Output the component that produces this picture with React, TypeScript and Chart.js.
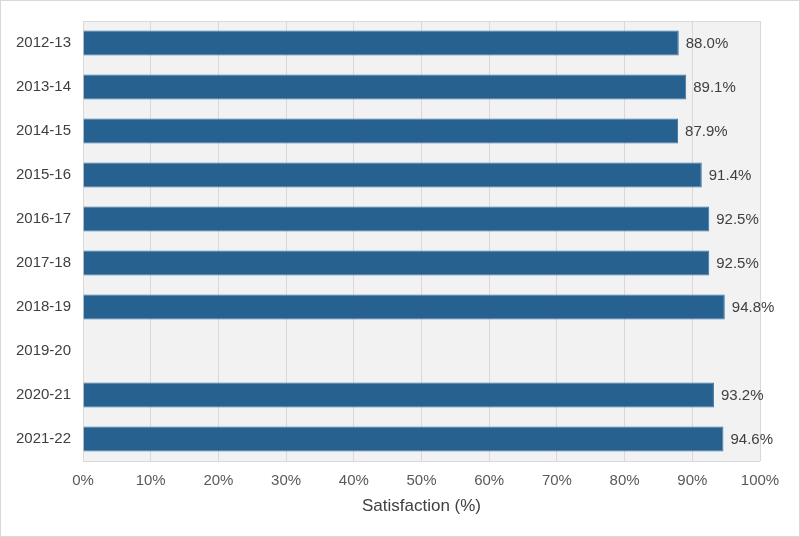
import React, { useEffect, useRef } from "react";
import { Chart, registerables } from "chart.js";

Chart.register(...registerables);

const categories = ["2012-13", "2013-14", "2014-15", "2015-16", "2016-17", "2017-18", "2018-19", "2019-20", "2020-21", "2021-22"];
const satisfaction: (number | null)[] = [88.0, 89.1, 87.9, 91.4, 92.5, 92.5, 94.8, null, 93.2, 94.6];
const xTickValues = [0, 10, 20, 30, 40, 50, 60, 70, 80, 90, 100];
const axisTitle = "Satisfaction (%)";

const FONT = "'Liberation Sans', Arial, sans-serif";

export default function App() {
  const ref = useRef<HTMLCanvasElement>(null);
  useEffect(() => {
    document.body.style.margin = "0";
    const canvas = ref.current!;
    const bgPlugin = {
      id: "bg",
      beforeDraw(chart: any) {
        const { ctx, chartArea: a } = chart;
        ctx.save();
        ctx.fillStyle = "#ffffff";
        ctx.fillRect(0, 0, chart.width, chart.height);
        ctx.strokeStyle = "#d9d9d9";
        ctx.lineWidth = 1;
        ctx.strokeRect(0.5, 0.5, chart.width - 1, chart.height - 1);
        ctx.fillStyle = "#f2f2f2";
        ctx.fillRect(a.left, a.top, a.right - a.left, a.bottom - a.top);
        ctx.restore();
      },
      afterDatasetsDraw(chart: any) {
        const { ctx, chartArea: a } = chart;
        ctx.save();
        ctx.strokeStyle = "#d9d9d9";
        ctx.lineWidth = 1;
        ctx.beginPath();
        ctx.moveTo(a.left, Math.round(a.top) + 0.5);
        ctx.lineTo(a.right, Math.round(a.top) + 0.5);
        ctx.moveTo(a.left, Math.round(a.bottom) + 0.5);
        ctx.lineTo(a.right, Math.round(a.bottom) + 0.5);
        ctx.stroke();
        const meta = chart.getDatasetMeta(0);
        ctx.fillStyle = "#404040";
        ctx.font = `15px ${FONT}`;
        ctx.textAlign = "left";
        ctx.textBaseline = "middle";
        meta.data.forEach((bar: any, i: number) => {
          const v = satisfaction[i];
          if (v == null) return;
          ctx.fillText(v.toFixed(1) + "%", bar.x + 7, bar.y + 1);
        });
        ctx.restore();
      },
    };
    const chart = new Chart(canvas, {
      type: "bar",
      data: {
        labels: categories,
        datasets: [
          {
            data: satisfaction,
            backgroundColor: "#27618f",
            borderColor: "#3d76a6",
            borderWidth: 1,
            barPercentage: 0.57,
            categoryPercentage: 1,
          },
        ],
      },
      options: {
        indexAxis: "y",
        animation: false,
        responsive: false,
        maintainAspectRatio: false,
        devicePixelRatio: 1,
        layout: { padding: { top: 16, right: 40, bottom: 20, left: 0 } },
        plugins: { legend: { display: false }, tooltip: { enabled: false } },
        scales: {
          x: {
            min: 0,
            max: 100,
            afterBuildTicks(scale: any) {
              scale.ticks = xTickValues.map((v) => ({ value: v }));
            },
            afterFit(scale: any) {
              scale.height = 56;
            },
            grid: { color: "#d9d9d9", drawTicks: false },
            border: { display: false },
            ticks: {
              color: "#595959",
              font: { family: FONT, size: 15 },
              padding: 11,
              callback: (v: any) => v + "%",
            },
            title: {
              display: true,
              text: axisTitle,
              color: "#404040",
              font: { family: FONT, size: 17 },
              padding: { top: 4, bottom: 0 },
            },
          },
          y: {
            afterFit(scale: any) {
              scale.width = 83;
            },
            grid: { display: false, drawTicks: false },
            border: { display: false },
            ticks: {
              color: "#404040",
              font: { family: FONT, size: 15 },
              padding: 12,
            },
          },
        },
      },
      plugins: [bgPlugin],
    });
    return () => chart.destroy();
  }, []);
  return (
    <div style={{ position: "fixed", left: 0, top: 0, width: 800, height: 537 }}>
      <canvas ref={ref} width={800} height={537} style={{ width: 800, height: 537, display: "block" }} />
    </div>
  );
}
